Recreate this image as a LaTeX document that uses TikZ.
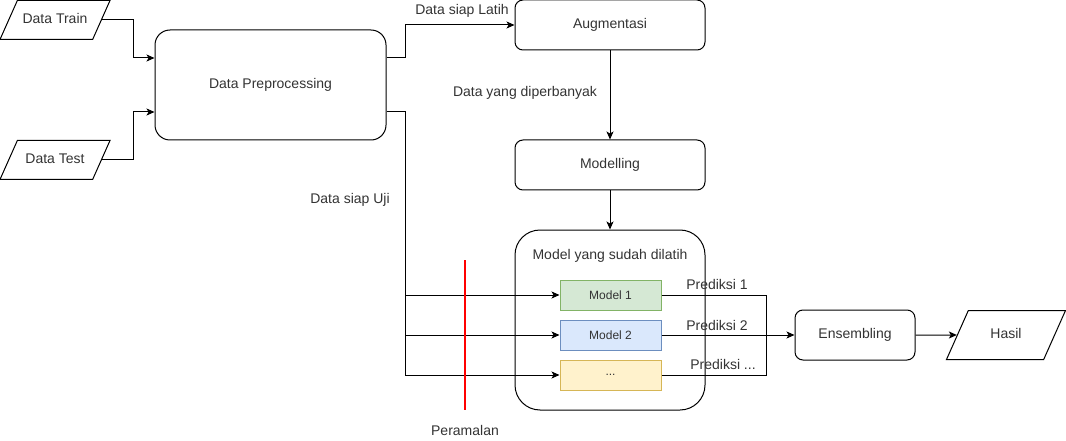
\documentclass[tikz,border=0pt]{standalone}
\usepackage{fontspec}
\setmainfont{Liberation Sans}
\usetikzlibrary{shapes.geometric,arrows.meta}
\definecolor{txt}{HTML}{333333}
\definecolor{grnfill}{HTML}{D5E8D4}
\definecolor{grnline}{HTML}{82B366}
\definecolor{blufill}{HTML}{DAE8FC}
\definecolor{bluline}{HTML}{6C8EBF}
\definecolor{ylwfill}{HTML}{FFF2CC}
\definecolor{ylwline}{HTML}{D6B656}
\begin{document}
\begin{tikzpicture}[x=1pt,y=-1pt,line width=1pt,
  font=\fontsize{14}{16}\selectfont,
  box/.style={draw, rounded corners=8pt, minimum width=190pt, minimum height=50pt, inner sep=0pt, text=txt},
  io/.style={draw, trapezium, trapezium left angle=66, trapezium right angle=114, trapezium stretches body=true, minimum width=110pt, inner xsep=0pt, inner ysep=13pt, text height=10pt, text depth=3pt, text=txt},
  mbox/.style={draw, minimum width=101pt, minimum height=30pt, inner sep=0pt, text=txt, font=\fontsize{12}{14}\selectfont},
  lbl/.style={inner sep=0pt, text=txt},
  arr/.style={-{Stealth[length=8pt,width=7pt,inset=2pt]}}]
\useasboundingbox (0,0) rectangle (1066,441);
% inputs and preprocessing
\node[io] (dtrain) at (55,20) {Data Train};
\node[io] (dtest) at (55,160) {Data Test};
\node[box, rounded corners=15pt, minimum width=231pt, minimum height=110pt] (prep) at (270.5,85) {Data Preprocessing};
% training branch
\node[box] (aug) at (610,25) {Augmentasi};
\node[box] (modl) at (610,165) {Modelling};
\node[box, rounded corners=25pt, minimum height=180pt] (trained) at (610,320) {};
\node[lbl] (trainedlbl) at (610,256) {Model yang sudah dilatih};
\node[mbox, fill=grnfill, draw=grnline] (m1) at (610.5,295) {Model 1};
\node[mbox, fill=blufill, draw=bluline] (m2) at (610.5,335) {Model 2};
\node[mbox, fill=ylwfill, draw=ylwline] (m3) at (610.5,375) {...};
% output
\node[box, minimum width=120pt] (ens) at (855,335) {Ensembling};
\node[io, minimum width=119pt, inner ysep=18pt] (hasil) at (1006,335) {Hasil};
% labels
\node[lbl] (lbllatih) at (462,11) {Data siap Latih};
\node[lbl] (lblbanyak) at (525,93) {Data yang diperbanyak};
\node[lbl] (lbluji) at (350,200) {Data siap Uji};
\node[lbl] (lblramal) at (465,430) {Peramalan};
\node[lbl] (lblp1) at (717,284) {Prediksi 1};
\node[lbl] (lblp2) at (717,325) {Prediksi 2};
\node[lbl] (lblp3) at (723,364) {Prediksi ...};
% connectors
\draw[arr] (dtrain.east) -- ++(32,0) |- ([yshift=27pt]prep.west);
\draw[arr] (dtest.east) -- ++(32,0) |- ([yshift=-27pt]prep.west);
\draw[arr] ([yshift=27pt]prep.east) -- ++(19,0) |- (aug.west);
\draw[arr] (aug) -- (modl);
\draw[arr] (modl) -- (trained);
\draw[arr] ([yshift=-27pt]prep.east) -- ++(19,0) coordinate (uji) |- (m3.west);
\draw[arr] (uji |- m1.west) -- (m1.west);
\draw[arr] (uji |- m2.west) -- (m2.west);
\draw (m1.east) -- ++(105,0) coordinate (pjoin) |- (m3.east);
\draw[arr] (m2.east) -- (ens.west);
\draw[arr] (ens.east) -- (hasil.west);
% forecast cut
\draw[red, line width=2pt] (465,260) -- (465,410);
\end{tikzpicture}
\end{document}
